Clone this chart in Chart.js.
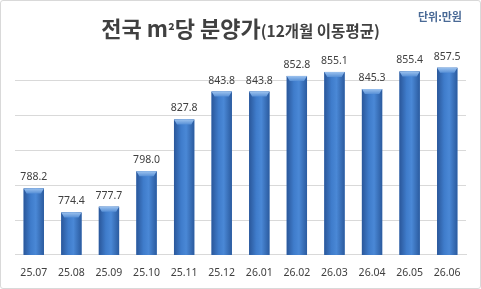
<!DOCTYPE html>
<html>
<head>
<meta charset="utf-8">
<script src="https://cdn.jsdelivr.net/npm/chart.js@4.4.1/dist/chart.umd.min.js"></script>
<style>
	html, body { margin: 0; padding: 0; background: #fff; }
	#wrap { position: relative; width: 481px; height: 289px; }
	#frame { position: absolute; left: 0; top: 0; width: 479px; height: 287px; border: 1px solid #d9d9d9; border-radius: 3px; }
	#title { position: absolute; left: 0; width: 481px; top: 11px; text-align: center; font-family: "Noto Sans CJK KR", sans-serif; font-weight: bold; color: #404040; white-space: nowrap; }
	#title .big { font-size: 22px; }
	#title .sq { font-size: 16px; }
	#title .small { font-size: 15.5px; }
	#unit { position: absolute; right: 19px; top: 8px; font-family: "Noto Sans CJK KR", sans-serif; font-weight: bold; font-size: 11px; color: #4a6a96; }
</style>
</head>
<body>
<div id="wrap">
	<canvas id="mycanvas" width="481" height="289"></canvas>
	<div id="frame"></div>
	<div id="title"><span class="big">전국 m<span class="sq">²</span>당 분양가</span><span class="small">(12개월 이동평균)</span></div>
	<div id="unit">단위:만원</div>
</div>
<script>
var months = ["25.07", "25.08", "25.09", "25.10", "25.11", "25.12", "26.01", "26.02", "26.03", "26.04", "26.05", "26.06"];
var prices = [788.2, 774.4, 777.7, 798.0, 827.8, 843.8, 843.8, 852.8, 855.1, 845.3, 855.4, 857.5];

// cylinder look + value labels on top of each bar
var barStyle = {
	id: 'barStyle',
	afterDatasetsDraw: function(chart) {
		var ctx = chart.ctx;
		var bottom = chart.chartArea.bottom;
		var meta = chart.getDatasetMeta(0);
		meta.data.forEach(function(bar, i) {
			var left = bar.x - bar.width / 2;
			var right = bar.x + bar.width / 2;
			var base = Math.min(bar.base, bottom);
			var g = ctx.createLinearGradient(left, 0, right, 0);
			g.addColorStop(0, "#2a579a");
			g.addColorStop(0.35, "#3f7ccb");
			g.addColorStop(0.6, "#4a88d6");
			g.addColorStop(1, "#2b5b9f");
			ctx.save();
			ctx.fillStyle = g;
			ctx.fillRect(left, bar.y, bar.width, base - bar.y);
			// top cap
			var cap = ctx.createLinearGradient(0, bar.y, 0, bar.y + 6);
			cap.addColorStop(0, "#9cc2ee");
			cap.addColorStop(1, "#4a86d2");
			ctx.fillStyle = cap;
			ctx.beginPath();
			ctx.moveTo(left, bar.y);
			ctx.lineTo(right, bar.y);
			ctx.lineTo(right - 3, bar.y + 5);
			ctx.lineTo(left + 3, bar.y + 5);
			ctx.closePath();
			ctx.fill();
			ctx.fillStyle = "#404040";
			ctx.font = "10.5px 'Noto Sans'";
			ctx.textAlign = "center";
			ctx.textBaseline = "alphabetic";
			ctx.fillText(prices[i].toFixed(1), bar.x, bar.y - 8);
			ctx.restore();
		});
	}
};

var ctx = document.getElementById("mycanvas");

var barGraph = new Chart(ctx, {
	type: 'bar',
	data: {
		labels: months,
		datasets: [{
			data: prices,
			backgroundColor: "#3a74c0",
			barPercentage: 0.54,
			categoryPercentage: 1
		}]
	},
	options: {
		responsive: false,
		animation: false,
		layout: { padding: { left: 15, right: 15, top: 46, bottom: 6.5 } },
		plugins: { legend: { display: false }, tooltip: { enabled: false } },
		scales: {
			x: {
				grid: { display: false },
				border: { color: "#d9d9d9" },
				ticks: { color: "#404040", font: { family: "Noto Sans", size: 10.5 }, padding: 3.5 }
			},
			y: {
				display: true,
				min: 750,
				max: 870,
				ticks: { stepSize: 20, display: false },
				border: { display: false },
				grid: {
					drawTicks: false,
					color: function(c) { return c.tick.value > 850 ? "rgba(0,0,0,0)" : "#d9d9d9"; }
				}
			}
		}
	},
	plugins: [barStyle]
});
</script>
</body>
</html>
